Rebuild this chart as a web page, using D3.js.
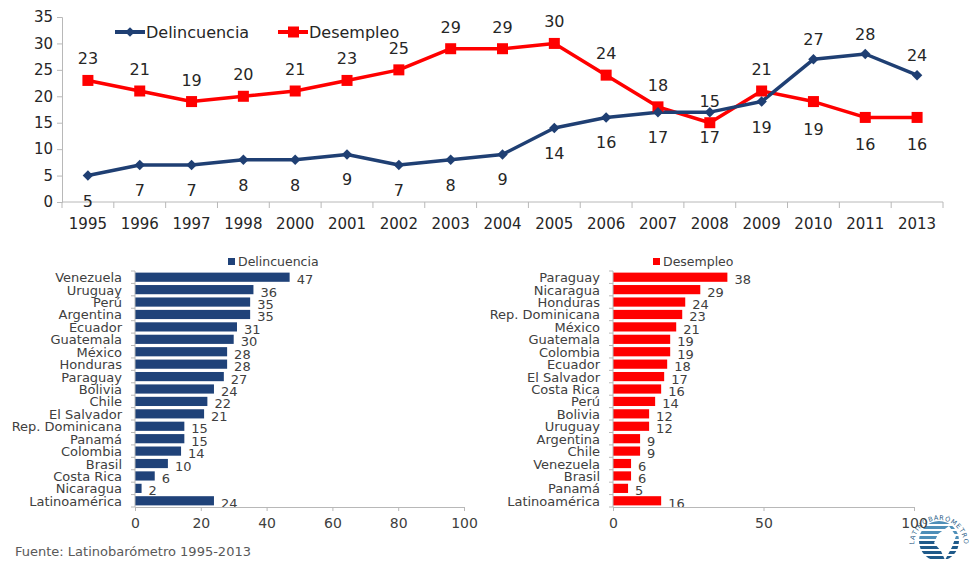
<!DOCTYPE html>
<html><head><meta charset="utf-8">
<script src="https://cdn.jsdelivr.net/npm/d3@7/dist/d3.min.js"></script>
<style>
body{margin:0;background:#fff;}
svg{display:block;font-family:"DejaVu Sans",sans-serif;}
</style></head>
<body><svg id="c" width="970" height="563"></svg>
<script>
const years = ["1995","1996","1997","1998","2000","2001","2002","2003","2004","2005","2006","2007","2008","2009","2010","2011","2013"];
const delincuencia = [5,7,7,8,8,9,7,8,9,14,16,17,17,19,27,28,24];
const desempleo = [23,21,19,20,21,23,25,29,29,30,24,18,15,21,19,16,16];
const yTicks = [0,5,10,15,20,25,30,35];

const delCountries = ["Venezuela","Uruguay","Perú","Argentina","Ecuador","Guatemala","México","Honduras","Paraguay","Bolivia","Chile","El Salvador","Rep. Dominicana","Panamá","Colombia","Brasil","Costa Rica","Nicaragua","Latinoamérica"];
const delValues = [47,36,35,35,31,30,28,28,27,24,22,21,15,15,14,10,6,2,24];
const desCountries = ["Paraguay","Nicaragua","Honduras","Rep. Dominicana","México","Guatemala","Colombia","Ecuador","El Salvador","Costa Rica","Perú","Bolivia","Uruguay","Argentina","Chile","Venezuela","Brasil","Panamá","Latinoamérica"];
const desValues = [38,29,24,23,21,19,19,18,17,16,14,12,12,9,9,6,6,5,16];
const delTicks = [0,20,40,60,80,100];
const desTicks = [0,50,100];

const BLUE = "#1f3f73", RED = "#ff0000", AXIS = "#b8b8b8", TXT = "#262626";
const svg = d3.select("#c");

// logo (simplified, drawn first so the axis label stays visible)
const lg = svg.append("g").attr("transform","translate(939,541)");
lg.append("circle").attr("r",31).attr("fill","#fff");
lg.append("defs").append("path").attr("id","ring").attr("d","M-25,4 A25,25 0 0,1 25,4");
lg.append("text").attr("font-size",6.5).attr("fill","#2f5f8a").attr("letter-spacing",0.8)
  .append("textPath").attr("href","#ring").attr("startOffset","50%").attr("text-anchor","middle").text("LATINOBARÓMETRO");
lg.append("clipPath").attr("id","lc").append("circle").attr("r",20);
const st = lg.append("g").attr("clip-path","url(#lc)");
st.selectAll("rect").data(d3.range(-20,20,5)).enter().append("rect")
  .attr("x",-20).attr("y",d=>d).attr("width",40).attr("height",3).attr("fill",(d,i)=> i<4 ? "#4f8fb8" : "#1f5a8a");
lg.append("path").attr("d","M-1,-7 L10,-15 L17,-5 L13,6 L6,19 L2,10 L-5,2 Z").attr("fill","#fff");

// ---------- top line chart ----------
const x = d3.scaleBand().domain(years).range([62, 943]).padding(0);
const y = d3.scaleLinear().domain([0, 35]).range([202, 17]);

const gy = svg.append("g").attr("transform","translate(62,0)")
  .call(d3.axisLeft(y).tickValues(yTicks).tickSize(5).tickPadding(4));
gy.selectAll("text").attr("font-size",15).attr("fill",TXT).attr("font-family","DejaVu Sans");
gy.select(".domain").attr("stroke",AXIS);
gy.selectAll(".tick line").attr("stroke",AXIS);

const gx = svg.append("g").attr("transform","translate(0,202)");
gx.append("line").attr("x1",62).attr("x2",943).attr("stroke",AXIS);
const bounds = years.map(d => x(d)).concat([x.range()[1]]);
gx.selectAll("line.t").data(bounds).enter().append("line").attr("class","t")
  .attr("x1",d=>d).attr("x2",d=>d).attr("y1",0).attr("y2",6).attr("stroke",AXIS);
gx.selectAll("text").data(years).enter().append("text")
  .attr("x",d=>x(d)+x.bandwidth()/2).attr("y",27).attr("text-anchor","middle")
  .attr("font-size",15).attr("fill",TXT).text(d=>d);

const cx = (d,i) => x(years[i]) + x.bandwidth()/2;
const line = d3.line().x((d,i)=>cx(d,i)).y(d=>y(d));
svg.append("path").datum(desempleo).attr("d",line).attr("fill","none").attr("stroke",RED).attr("stroke-width",3.5).attr("stroke-linejoin","round");
svg.append("path").datum(delincuencia).attr("d",line).attr("fill","none").attr("stroke",BLUE).attr("stroke-width",3.5).attr("stroke-linejoin","round");

svg.selectAll("rect.sq").data(desempleo).enter().append("rect").attr("class","sq")
  .attr("x",(d,i)=>cx(d,i)-5.5).attr("y",d=>y(d)-5.5).attr("width",11).attr("height",11).attr("fill",RED);
svg.selectAll("path.dm").data(delincuencia).enter().append("path").attr("class","dm")
  .attr("d",d3.symbol(d3.symbolDiamond2,70)())
  .attr("transform",(d,i)=>`translate(${cx(d,i)},${y(d)})`).attr("fill",BLUE);

// label placement: blue above only when clearly above red
const blueAbove = delincuencia.map((d,i)=> d > desempleo[i] + 3);
svg.selectAll("text.ld").data(delincuencia).enter().append("text").attr("class","ld")
  .attr("x",(d,i)=>cx(d,i)).attr("y",(d,i)=> blueAbove[i] ? y(d)-14 : y(d)+31)
  .attr("text-anchor","middle").attr("font-size",16).attr("fill",TXT).text(d=>d);
svg.selectAll("text.lr").data(desempleo).enter().append("text").attr("class","lr")
  .attr("x",(d,i)=>cx(d,i)).attr("y",(d,i)=> blueAbove[i] ? y(d)+33 : y(d)-16)
  .attr("text-anchor","middle").attr("font-size",16).attr("fill",TXT).text(d=>d);

// legend
const leg = [{n:"Delincuencia",c:BLUE,x:115,sym:"d"},{n:"Desempleo",c:RED,x:278,sym:"s"}];
leg.forEach(l=>{
  const g = svg.append("g");
  g.append("line").attr("x1",l.x).attr("x2",l.x+30).attr("y1",32).attr("y2",32).attr("stroke",l.c).attr("stroke-width",4);
  if(l.sym==="s") g.append("rect").attr("x",l.x+10).attr("y",26.5).attr("width",11).attr("height",11).attr("fill",l.c);
  else g.append("path").attr("d",d3.symbol(d3.symbolDiamond2,60)()).attr("transform",`translate(${l.x+15},32)`).attr("fill",l.c);
  g.append("text").attr("x",l.x+31).attr("y",38).attr("font-size",16).attr("fill",TXT).text(l.n);
});

// ---------- bar charts ----------
function barChart(cats, vals, ticks, x0, x1, maxV, color, legendX, legendName){
  const xs = d3.scaleLinear().domain([0,maxV]).range([x0,x1]);
  const ys = d3.scaleBand().domain(cats).range([271,507]).paddingInner(0.26).paddingOuter(0.13);
  const g = svg.append("g");
  g.selectAll("rect").data(vals).enter().append("rect")
    .attr("x",x0).attr("y",(d,i)=>ys(cats[i])).attr("width",d=>xs(d)-x0).attr("height",ys.bandwidth()).attr("fill",color);
  // category axis
  g.append("line").attr("x1",x0).attr("x2",x0).attr("y1",271).attr("y2",507).attr("stroke",AXIS);
  g.selectAll("line.ct").data(d3.range(cats.length+1)).enter().append("line").attr("class","ct")
    .attr("x1",x0-4).attr("x2",x0).attr("y1",i=>271+i*(236/cats.length)).attr("y2",i=>271+i*(236/cats.length)).attr("stroke",AXIS);
  g.selectAll("text.cat").data(cats).enter().append("text").attr("class","cat")
    .attr("x",x0-13).attr("y",d=>ys(d)+ys.bandwidth()/2+5).attr("text-anchor","end")
    .attr("font-size",13).attr("fill","#404040").text(d=>d);
  g.selectAll("text.val").data(vals).enter().append("text").attr("class","val")
    .attr("x",d=>xs(d)+7).attr("y",(d,i)=>ys(cats[i])+ys.bandwidth()/2+7)
    .attr("font-size",13).attr("fill","#404040").text(d=>d);
  // value axis
  const ga = g.append("g").attr("transform","translate(0,507)")
    .call(d3.axisBottom(xs).tickValues(ticks).tickSize(4).tickPadding(7));
  ga.select(".domain").attr("stroke",AXIS);
  ga.selectAll(".tick line").attr("stroke",AXIS);
  ga.selectAll("text").attr("font-size",14).attr("fill","#404040").attr("font-family","DejaVu Sans");
  // legend
  g.append("rect").attr("x",legendX).attr("y",258).attr("width",7).attr("height",7).attr("fill",color);
  g.append("text").attr("x",legendX+10).attr("y",266).attr("font-size",12.5).attr("fill","#404040").text(legendName);
}
barChart(delCountries, delValues, delTicks, 135, 464, 100, "#1f4279", 228, "Delincuencia");
barChart(desCountries, desValues, desTicks, 613, 914, 100, RED, 653, "Desempleo");

// footer
svg.append("text").attr("x",15).attr("y",556).attr("font-size",13).attr("fill","#595959").text("Fuente: Latinobarómetro 1995-2013");
</script></body></html>
